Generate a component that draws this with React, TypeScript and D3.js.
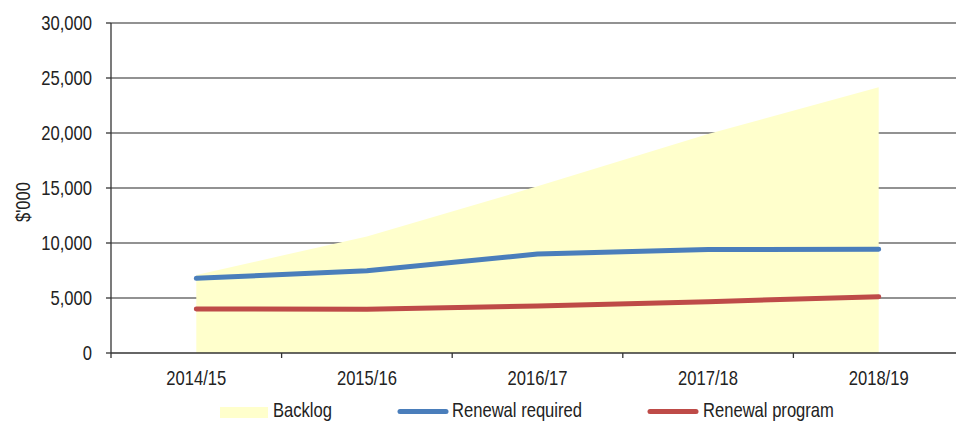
import React from "react";
import * as d3 from "d3";

const categories = ["2014/15", "2015/16", "2016/17", "2017/18", "2018/19"];
const backlog = [7100, 10600, 15150, 19900, 24150];
const renewalRequired = [6790, 7480, 9000, 9400, 9430];
const renewalProgram = [4010, 3970, 4280, 4670, 5120];
const yTicks = [0, 5000, 10000, 15000, 20000, 25000, 30000];
const legendLabels = ["Backlog", "Renewal required", "Renewal program"];

const W = 956;
const H = 421;
const left = 111;
const right = 964;
const top = 23;
const bottom = 353;
const FONT = "'Liberation Sans', Arial, sans-serif";
const FS = 20;
const SX = 0.83;

function NText({
  x,
  y,
  anchor = "start",
  rotate = 0,
  dy,
  children,
}: {
  x: number;
  y: number;
  anchor?: string;
  rotate?: number;
  dy?: string;
  children: React.ReactNode;
}) {
  return (
    <text
      transform={`translate(${x},${y}) rotate(${rotate}) scale(${SX},1)`}
      textAnchor={anchor}
      dy={dy}
      fontFamily={FONT}
      fontSize={FS}
      fill="#222"
    >
      {children}
    </text>
  );
}

export default function App() {
  const x = d3.scaleBand<string>().domain(categories).range([left, right]);
  const cx = (c: string) => (x(c) as number) + x.bandwidth() / 2;
  const y = d3.scaleLinear().domain([0, 30000]).range([bottom, top]);

  const area = d3
    .area<number>()
    .x((_, i) => cx(categories[i]))
    .y0(y(0))
    .y1((d) => y(d));
  const line = d3
    .line<number>()
    .x((_, i) => cx(categories[i]))
    .y((d) => y(d));

  const fmt = d3.format(",");

  return (
    <svg width={W} height={H} style={{ position: "absolute", left: 0, top: 0 }}>
      <rect x={0} y={0} width={W} height={H} fill="#ffffff" />
      {yTicks.map((t) => (
        <g key={t}>
          {t > 0 && (
            <line x1={left} x2={W} y1={y(t)} y2={y(t)} stroke="#6e6e6e" strokeWidth={1.3} />
          )}
          <line x1={left - 5} x2={left} y1={y(t)} y2={y(t)} stroke="#333" strokeWidth={1.3} />
          <NText x={left - 19} y={y(t)} dy="0.36em" anchor="end">
            {fmt(t)}
          </NText>
        </g>
      ))}
      <path d={area(backlog) || ""} fill="#FFFFCC" />
      <line x1={left} x2={W} y1={bottom} y2={bottom} stroke="#333" strokeWidth={1.3} />
      <line x1={left} x2={left} y1={top} y2={bottom + 5} stroke="#333" strokeWidth={1.3} />
      {categories.map((c, i) => (
        <g key={c}>
          {i > 0 && (
            <line
              x1={x(c) as number}
              x2={x(c) as number}
              y1={bottom}
              y2={bottom + 5}
              stroke="#333"
              strokeWidth={1.3}
            />
          )}
          <NText x={cx(c)} y={bottom + 32} anchor="middle">
            {c}
          </NText>
        </g>
      ))}
      <path
        d={line(renewalRequired) || ""}
        fill="none"
        stroke="#4A7EBB"
        strokeWidth={5}
        strokeLinecap="round"
        strokeLinejoin="round"
      />
      <path
        d={line(renewalProgram) || ""}
        fill="none"
        stroke="#BE4B48"
        strokeWidth={5}
        strokeLinecap="round"
        strokeLinejoin="round"
      />
      <NText x={30} y={202} rotate={-90} anchor="middle">
        $'000
      </NText>
      {/* legend */}
      <rect x={220} y={407} width={48} height={11} fill="#FFFFCC" />
      <NText x={273} y={417}>{legendLabels[0]}</NText>
      <line x1={400} x2={446} y1={411.5} y2={411.5} stroke="#4A7EBB" strokeWidth={5} strokeLinecap="round" />
      <NText x={452} y={417}>{legendLabels[1]}</NText>
      <line x1={650} x2={696} y1={411.5} y2={411.5} stroke="#BE4B48" strokeWidth={5} strokeLinecap="round" />
      <NText x={703} y={417}>{legendLabels[2]}</NText>
    </svg>
  );
}
